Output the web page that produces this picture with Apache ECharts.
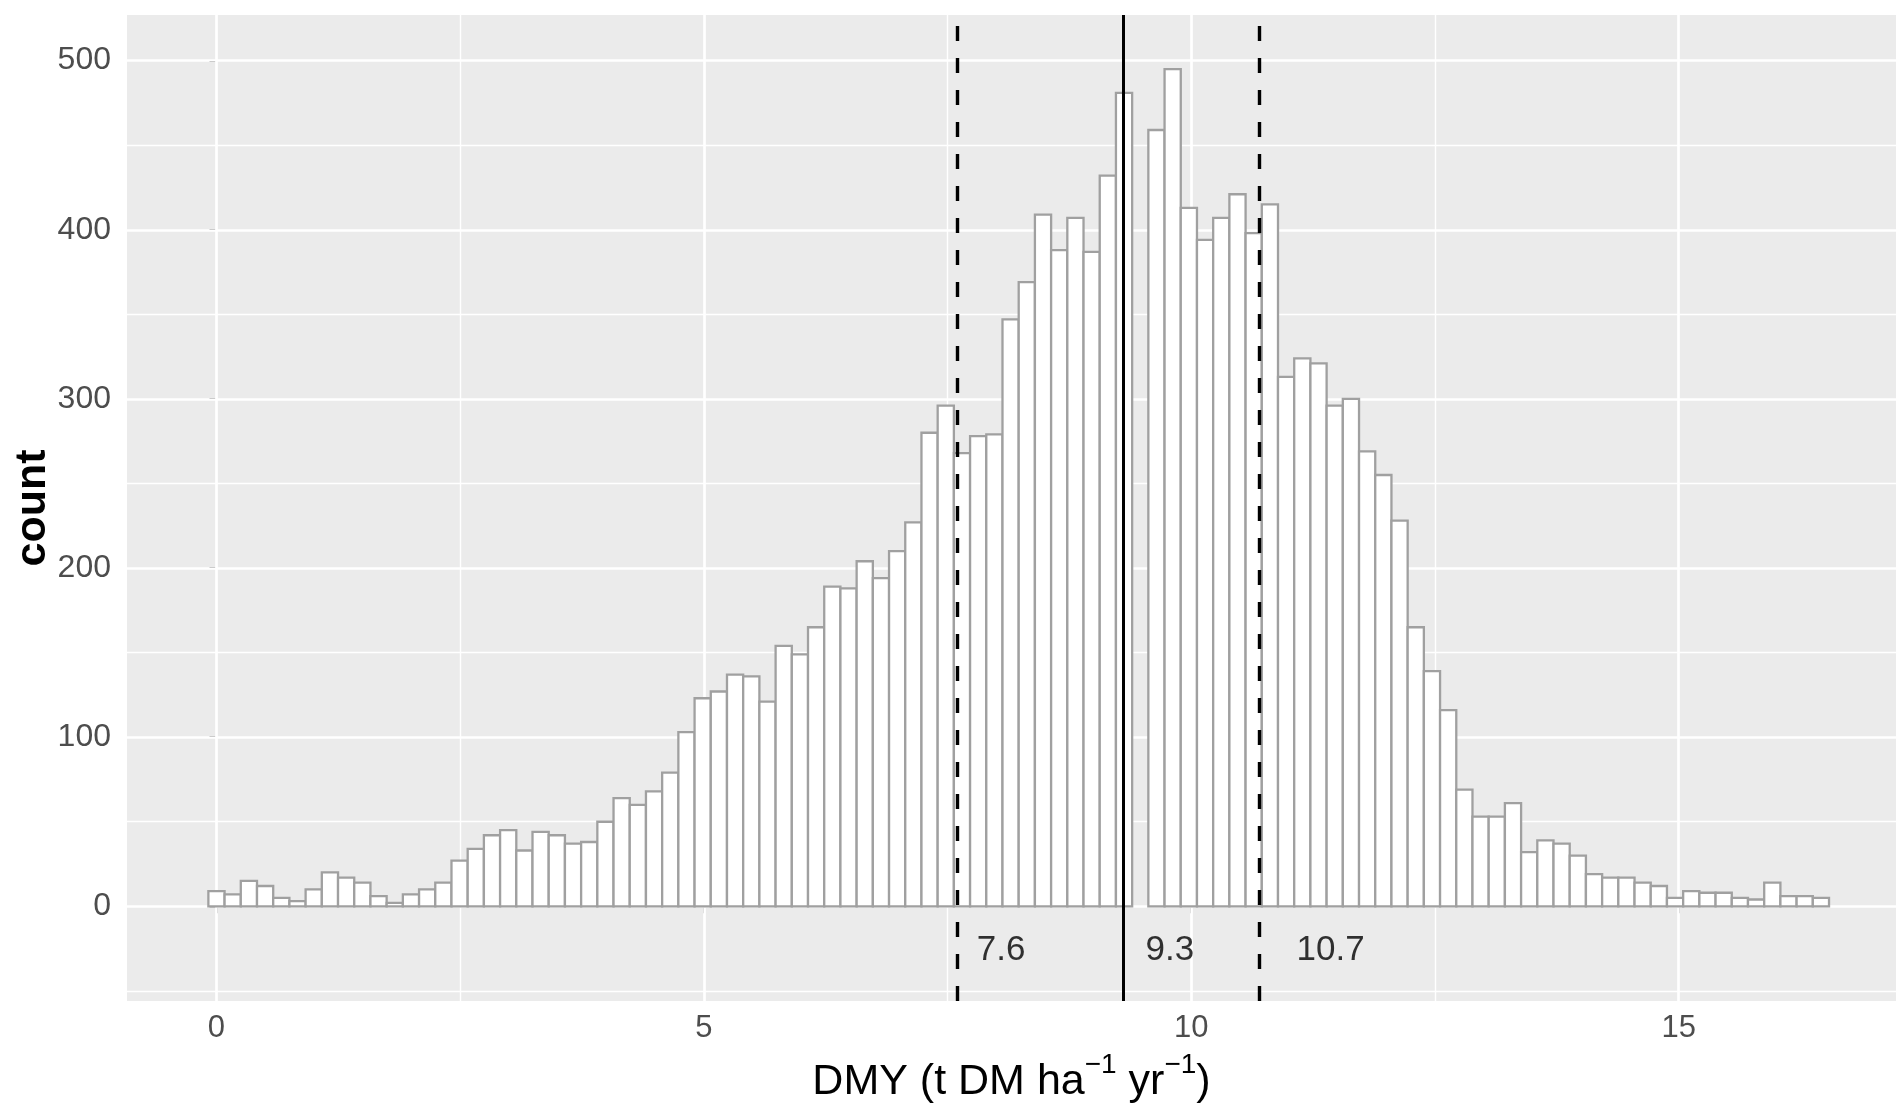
<!DOCTYPE html>
<html>
<head>
<meta charset="utf-8">
<title>DMY histogram</title>
<script src="https://cdn.jsdelivr.net/npm/echarts@6/dist/echarts.min.js"></script>
<style>
  html, body { margin: 0; padding: 0; background: #ffffff; }
  #chart { width: 1896px; height: 1109px; }
</style>
</head>
<body>
<div id="chart"></div>
<script>
// Histogram of dry-matter yield: 100 equal bins, the first centred on 0
const binWidth = 0.16626;
const firstBinCenter = 0;
const counts = [
  9, 7, 15, 12, 5, 3, 10, 20, 17, 14,
  6, 2, 7, 10, 14, 27, 34, 42, 45, 33,
  44, 42, 37, 38, 50, 64, 60, 68, 79, 103,
  123, 127, 137, 136, 121, 154, 149, 165, 189, 188,
  204, 194, 210, 227, 280, 296, 268, 278, 279, 347,
  369, 409, 388, 407, 387, 432, 481, null, 459, 495,
  413, 394, 407, 421, 398, 415, 313, 324, 321, 296,
  300, 269, 255, 228, 165, 139, 116, 69, 53, 53,
  61, 32, 39, 37, 30, 19, 17, 17, 14, 12,
  5, 9, 8, 8, 5, 4, 14, 6, 6, 5
];

// Reference values: lower quartile, median, upper quartile
const quantileValues = [7.6, 9.3, 10.7];
const quantileDashed = [true, false, true];

// Axis ticks and grid breaks
const xMajorTicks = [0, 5, 10, 15];
const xMinorTicks = [2.5, 7.5, 12.5];
const yMajorTicks = [0, 100, 200, 300, 400, 500];
const yMinorTicks = [-50, 50, 150, 250, 350, 450];

// ---- layout / styling ----
const FONT = "'Liberation Sans', Arial, Helvetica, sans-serif";
const xRange = [-0.918, 17.23];
const yRange = [-56, 527];
const labelY = -26;
const labelOffsets = [0.45, 0.48, 0.73];

const binData = counts.map((c, i) => [firstBinCenter + i * binWidth, c == null ? '-' : c]);

const gridLines = [];
xMajorTicks.forEach(v => gridLines.push({ xAxis: v, lineStyle: { color: '#ffffff', width: 2.7, type: 'solid' } }));
xMinorTicks.forEach(v => gridLines.push({ xAxis: v, lineStyle: { color: '#ffffff', width: 1.4, type: 'solid' } }));
yMajorTicks.forEach(v => gridLines.push({ yAxis: v, lineStyle: { color: '#ffffff', width: 2.7, type: 'solid' } }));
yMinorTicks.forEach(v => gridLines.push({ yAxis: v, lineStyle: { color: '#ffffff', width: 1.4, type: 'solid' } }));

const quantileLines = quantileValues.map((v, i) => ({
  xAxis: v,
  lineStyle: { color: '#000000', width: quantileDashed[i] ? 3.4 : 3, type: quantileDashed[i] ? [15, 17] : 'solid' }
}));

const quantileLabels = quantileValues.map((v, i) => [v + labelOffsets[i], labelY, v.toFixed(1)]);

const chart = echarts.init(document.getElementById('chart'), null, { renderer: 'canvas' });

chart.setOption({
  animation: false,
  backgroundColor: '#ffffff',
  grid: {
    left: 127, right: 0, top: 15, bottom: 108,
    containLabel: false,
    outerBoundsMode: 'none',
    show: true,
    backgroundColor: '#EBEBEB',
    borderWidth: 0
  },
  xAxis: {
    type: 'value',
    min: xRange[0],
    max: xRange[1],
    splitNumber: 4,
    axisLine: { show: false },
    axisTick: { show: true, length: 7, customValues: xMajorTicks, lineStyle: { color: '#333333', width: 2 } },
    axisLabel: { customValues: xMajorTicks, color: '#4D4D4D', fontSize: 31, fontFamily: FONT, margin: 12 },
    splitLine: { show: false },
    minorSplitLine: { show: false },
    name: 'DMY (t DM ha{sup|\u22121} yr{sup|\u22121})',
    nameLocation: 'middle',
    nameGap: 50,
    nameTextStyle: {
      color: '#000000', fontSize: 43, fontFamily: FONT, lineHeight: 62,
      rich: {
        sup: { fontSize: 28, fontFamily: FONT, color: '#000000', verticalAlign: 'top' }
      }
    }
  },
  yAxis: {
    type: 'value',
    min: yRange[0],
    max: yRange[1],
    splitNumber: 5,
    axisLine: { show: false },
    axisTick: { show: true, length: 7, customValues: yMajorTicks, lineStyle: { color: '#333333', width: 2 } },
    axisLabel: { customValues: yMajorTicks, color: '#4D4D4D', fontSize: 32, fontFamily: FONT, margin: 16 },
    splitLine: { show: false },
    minorSplitLine: { show: false },
    name: 'count',
    nameLocation: 'middle',
    nameRotate: 90,
    nameGap: 72,
    nameMoveOverlap: false,
    nameTextStyle: { color: '#000000', fontSize: 43, fontWeight: 'bold', fontFamily: FONT }
  },
  series: [
    {
      // panel grid lines, drawn under the bars
      type: 'line',
      data: [],
      z: 1,
      silent: true,
      markLine: {
        silent: true,
        z: 1,
        symbol: ['none', 'none'],
        label: { show: false },
        emphasis: { disabled: true },
        data: gridLines
      }
    },
    {
      type: 'custom',
      name: 'DMY',
      z: 2,
      silent: true,
      clip: true,
      encode: { x: 0, y: 1 },
      data: binData,
      renderItem: function (params, api) {
        const c = api.value(1);
        if (c == null || isNaN(c)) return null;
        const center = api.value(0);
        const topLeft = api.coord([center - binWidth / 2, c]);
        const bottomRight = api.coord([center + binWidth / 2, 0]);
        return {
          type: 'rect',
          shape: {
            x: topLeft[0],
            y: topLeft[1],
            width: bottomRight[0] - topLeft[0],
            height: bottomRight[1] - topLeft[1]
          },
          style: { fill: '#ffffff', stroke: '#A0A0A0', lineWidth: 2.3 }
        };
      }
    },
    {
      // quartile and median markers
      type: 'line',
      data: [],
      z: 5,
      silent: true,
      markLine: {
        silent: true,
        z: 5,
        symbol: ['none', 'none'],
        label: { show: false },
        emphasis: { disabled: true },
        data: quantileLines
      }
    },
    {
      type: 'scatter',
      z: 6,
      silent: true,
      symbolSize: 1,
      itemStyle: { color: 'rgba(0,0,0,0)' },
      data: quantileLabels,
      label: {
        show: true,
        position: 'inside',
        formatter: p => p.value[2],
        color: '#000000',
        fontSize: 35,
        fontFamily: FONT,
        align: 'center',
        verticalAlign: 'middle'
      }
    }
  ]
});
</script>
</body>
</html>
